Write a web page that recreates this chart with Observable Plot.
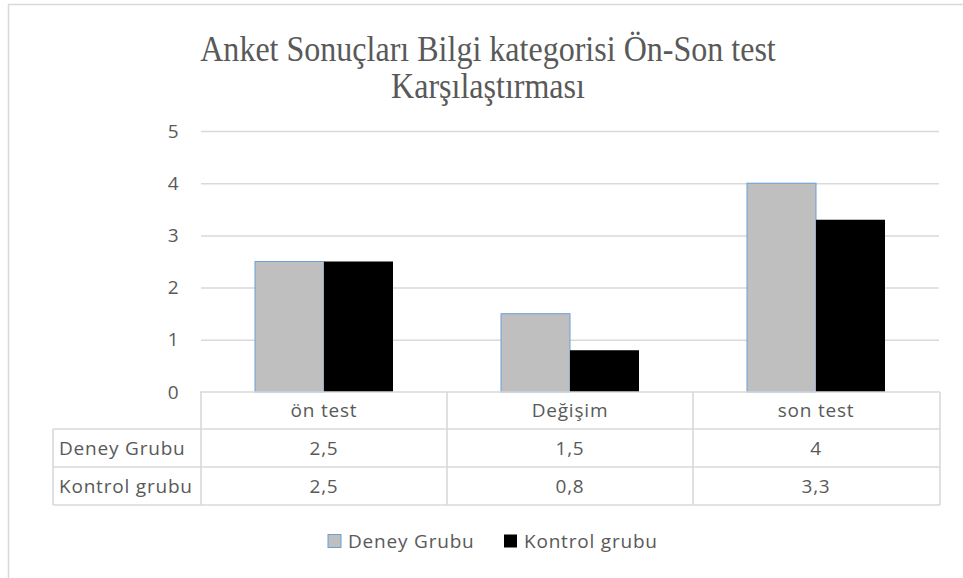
<!DOCTYPE html>
<html>
<head>
<meta charset="utf-8">
<script src="https://cdn.jsdelivr.net/npm/d3@7"></script>
<script src="https://cdn.jsdelivr.net/npm/@observablehq/plot@0.6"></script>
<style>
  html, body { margin: 0; padding: 0; background: #fff; overflow: hidden; }
  #chart { width: 963px; height: 578px; }
</style>
</head>
<body>
<div id="chart"></div>
<script>
const titleLines = ["Anket Sonuçları Bilgi kategorisi Ön-Son test", "Karşılaştırması"];
const categories = ["ön test", "Değişim", "son test"];
const series = ["Deney Grubu", "Kontrol grubu"];
const deneyValues = [2.5, 1.5, 4];
const kontrolValues = [2.5, 0.8, 3.3];
const yTicks = [0, 1, 2, 3, 4, 5];
const seriesColors = ["#bfbfbf", "#000000"];

const valuesBySeries = [deneyValues, kontrolValues];
const data = series.flatMap((s, i) => categories.map((c, j) => ({series: s, category: c, value: valuesBySeries[i][j]})));

const W = 963, H = 578;
const textColor = "#595959";
const gridColor = "#d9d9d9";
const sansFont = "'Open Sans', sans-serif";

const chart = Plot.plot({
  width: W,
  height: H,
  marginTop: 131,
  marginBottom: 186,
  marginLeft: 200,
  marginRight: 23,
  style: {fontFamily: sansFont, fontSize: "19px", color: textColor, background: "#fff", overflow: "hidden"},
  fx: {domain: categories, padding: 0, axis: null},
  x: {domain: series, paddingInner: 0, paddingOuter: 0.762, axis: null},
  y: {domain: [0, 5], axis: null},
  marks: [
    Plot.ruleY(yTicks.filter(t => t > 0), {stroke: gridColor, strokeWidth: 1.5}),
    Plot.barY(data.filter(d => d.series === series[0]), {fx: "category", x: "series", y: "value", fill: seriesColors[0], stroke: "#6a9fd6", strokeWidth: 1, insetLeft: 0, insetRight: 0}),
    Plot.barY(data.filter(d => d.series === series[1]), {fx: "category", x: "series", y: "value", fill: seriesColors[1], insetLeft: 0, insetRight: 0}),
    Plot.axisY({ticks: yTicks, tickSize: 0, tickPadding: 23, tickFormat: d => String(d), fill: textColor, label: null})
  ]
});
document.getElementById("chart").appendChild(chart);

const svg = d3.select(chart);
const fx = chart.scale("fx");
const y = chart.scale("y");
const fxStart = c => fx.apply(c);
const left = fx.range[0], right = fx.range[1];
const tableTop = y.apply(0);
const rowH = [37, 38, 38];
const rowTops = [tableTop, tableTop + rowH[0], tableTop + rowH[0] + rowH[1]];
const tableBottom = rowTops[2] + rowH[2];
const labelLeft = 53;

// outer frame (left & top)
svg.append("line").attr("x1", 8.5).attr("x2", 8.5).attr("y1", 4).attr("y2", H).attr("stroke", gridColor).attr("stroke-width", 1.5);
svg.append("line").attr("x1", 8).attr("x2", W).attr("y1", 4.5).attr("y2", 4.5).attr("stroke", gridColor).attr("stroke-width", 1.5);

// title (narrow serif)
const t = svg.append("text").attr("text-anchor", "middle").attr("fill", textColor)
  .attr("transform", "translate(488,0) scale(0.89,1)")
  .style("font-family", "'Liberation Serif', 'Times New Roman', serif").style("font-size", "36px");
titleLines.forEach((line, i) => {
  t.append("tspan").attr("x", 0).attr("y", 61 + i * 37).text(line);
});

// data table
const g = svg.append("g").attr("stroke", gridColor).attr("stroke-width", 1.6).attr("fill", "none");
g.append("line").attr("x1", left).attr("x2", right).attr("y1", tableTop).attr("y2", tableTop);
[rowTops[1], rowTops[2], tableBottom].forEach(yy => {
  g.append("line").attr("x1", labelLeft).attr("x2", right).attr("y1", yy).attr("y2", yy);
});
g.append("line").attr("x1", labelLeft).attr("x2", labelLeft).attr("y1", rowTops[1]).attr("y2", tableBottom);
categories.forEach(c => {
  const x0 = fxStart(c);
  g.append("line").attr("x1", x0).attr("x2", x0).attr("y1", tableTop).attr("y2", tableBottom);
});
g.append("line").attr("x1", right).attr("x2", right).attr("y1", tableTop).attr("y2", tableBottom);

const tg = svg.append("g").attr("fill", textColor)
  .style("font-family", sansFont).style("font-size", "19px").style("letter-spacing", "0.8px");
const fmt = v => String(v).replace(".", ",");
categories.forEach((c, j) => {
  const cx = fxStart(c) + fx.bandwidth / 2;
  tg.append("text").attr("x", cx).attr("y", rowTops[0] + rowH[0] / 2).attr("dy", "0.35em").attr("text-anchor", "middle").text(c);
  series.forEach((s, i) => {
    tg.append("text").attr("x", cx).attr("y", rowTops[i + 1] + rowH[i + 1] / 2).attr("dy", "0.35em").attr("text-anchor", "middle").text(fmt(valuesBySeries[i][j]));
  });
});
series.forEach((s, i) => {
  tg.append("text").attr("x", labelLeft + 6).attr("y", rowTops[i + 1] + rowH[i + 1] / 2).attr("dy", "0.35em").attr("text-anchor", "start").text(s);
});

// legend
const lg = svg.append("g").style("font-family", sansFont).style("font-size", "19px").style("letter-spacing", "0.8px");
const legendY = 541;
const legendX = [328, 504];
series.forEach((s, i) => {
  lg.append("rect").attr("x", legendX[i]).attr("y", legendY - 6.5).attr("width", 13).attr("height", 13)
    .attr("fill", seriesColors[i]).attr("stroke", i === 0 ? "#6a9fd6" : "none").attr("stroke-width", 1);
  lg.append("text").attr("x", legendX[i] + 20).attr("y", legendY).attr("dy", "0.35em").attr("text-anchor", "start").attr("fill", textColor).text(s);
});
</script>
</body>
</html>
